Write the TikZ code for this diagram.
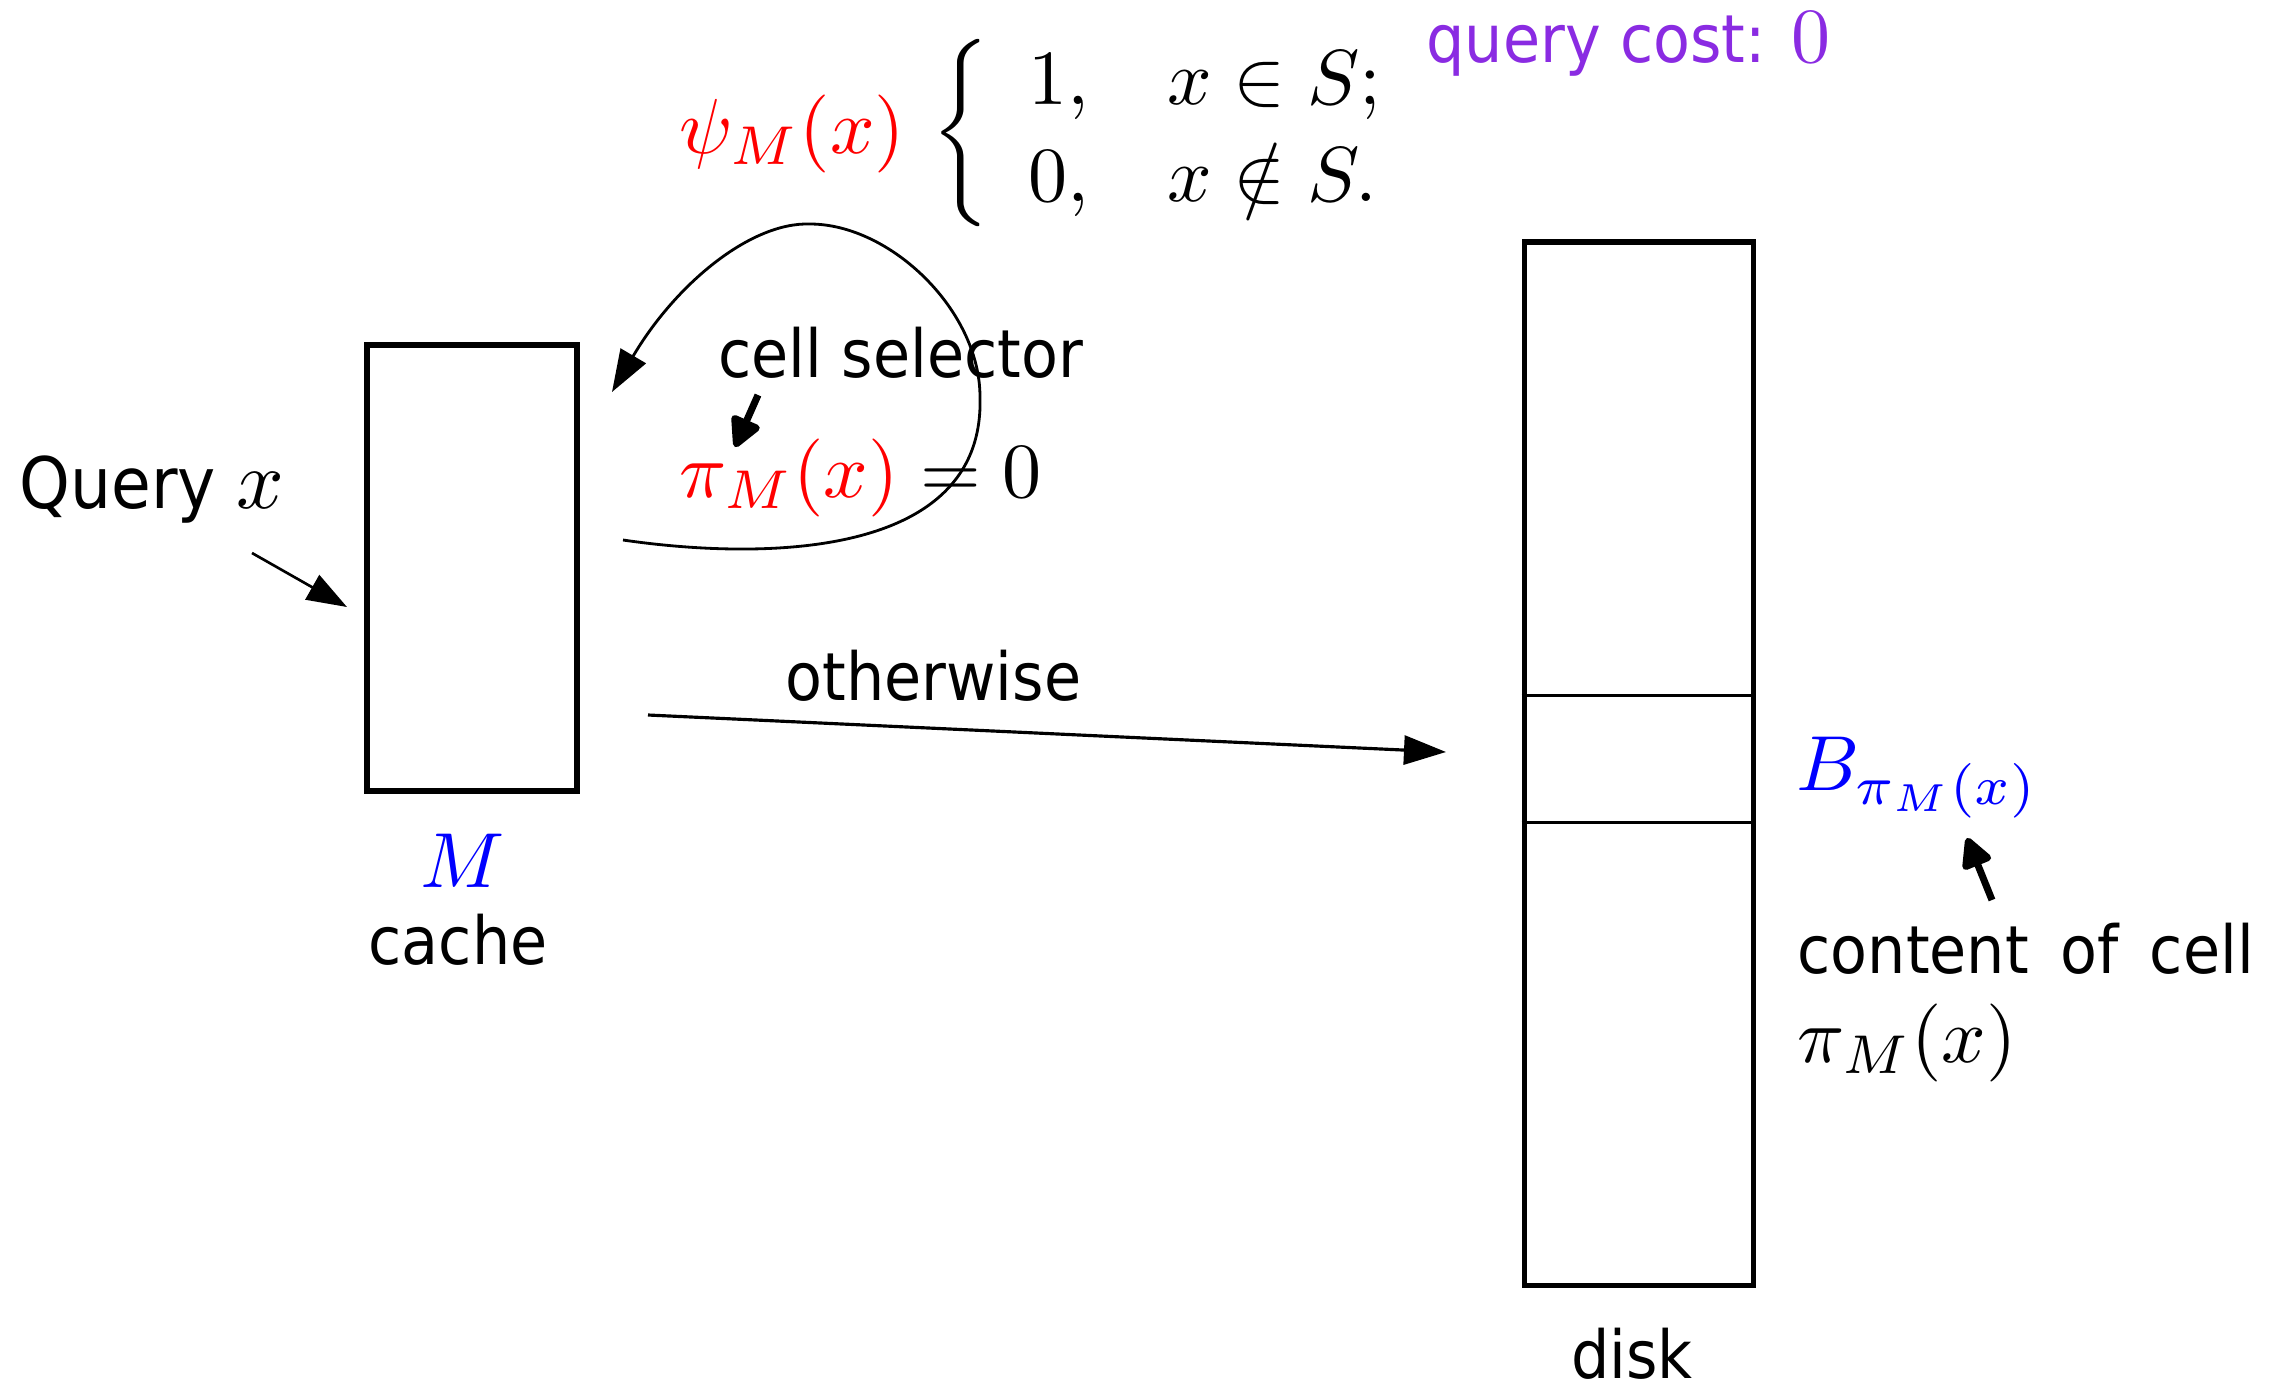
\RequirePackage{fix-cm}
\documentclass[tikz,border=0pt]{standalone}
\usepackage{amsmath}
\usepackage[no-math]{fontspec}
\setmainfont{DejaVu Sans}[Scale=0.85,FakeStretch=0.91]
\usetikzlibrary{arrows.meta}
\definecolor{costviolet}{RGB}{138,43,226}

\begin{document}
\begin{tikzpicture}[x=0.01cm,y=-0.01cm,
  txt/.style={inner sep=0pt, scale=2.22, font=\fontsize{10}{12.4}\selectfont},
  box/.style={draw, line width=1.6pt, inner sep=0pt},
  divider/.style={line width=0.85pt},
  flow/.style={line width=0.8pt, -{Triangle[length=0.42cm,width=0.29cm]}},
  pointer/.style={line width=2pt, line join=round, -{Triangle[length=0.34cm,width=0.33cm,round]}}
]
\useasboundingbox (0,0) rectangle (2272,1387);

% cache and disk
\node[box, minimum width=2.10cm, minimum height=4.46cm] (cache) at (472,568) {};
\node[box, minimum width=2.29cm, minimum height=10.43cm] (disk) at (1639,763.5) {};
\coordinate (row1) at (0,695);
\coordinate (row2) at (0,822);
\draw[divider] (disk.west |- row1) -- (disk.east |- row1);
\draw[divider] (disk.west |- row2) -- (disk.east |- row2);

% labels
\node[txt, scale=1.07, anchor=base west] (query) at (18,508) {Query $x$};
\node[txt, anchor=base, text=blue] (mlabel) at (463,887) {$M$};
\node[txt, anchor=base] (cachelabel) at (458,964) {cache};
\node[txt, anchor=base] (disklabel) at (1632,1378) {disk};
\node[txt, anchor=base west] (otw) at (784,700) {otherwise};
\node[txt, anchor=base west] (selector) at (717,377) {cell selector};
\node[txt, anchor=base west] (pieq) at (678,497) {${\color{red}\pi_M(x)} = 0$};
\node[txt, anchor=base west] (psi) at (678,153)
  {${\color{red}\psi_M(x)}\mkern3mu\left\{\begin{array}{ll} 1, & x\in S;\\ 0, & x\notin S.\end{array}\right.$};
\node[txt, anchor=base west, text=costviolet] (cost) at (1425,62) {query cost: $0$};
\node[txt, anchor=base west] (blk) at (1795,790) {\color{blue}$B_{\pi_M(x)}$};
\node[txt, anchor=base west, align=left, text width=2.054cm, font=\fontsize{10}{11.4}\selectfont] (content) at (1796,973)
  {\makebox[2.054cm][l]{content\hfill of\hfill cell}\\ $\pi_M(x)$};

% incoming query
\coordinate (qs) at (252,553);
\coordinate (qe) at (347,607);
\draw[line width=0.75pt, -{Triangle[length=0.40cm,width=0.28cm]}] (qs) -- (qe);

% loop back into the cache
\coordinate (ls) at (623,540);
\coordinate (le) at (612,392);
\draw[flow] (ls) .. controls (760,560) and (985,560) .. (980,397)
  .. controls (980,310) and (890,224) .. (810,224)
  .. controls (750,222) and (675,285) .. (le);

% otherwise: go to disk
\coordinate (os) at (648,715);
\coordinate (oe) at (1446,752);
\draw[flow, line width=0.9pt] (os) -- (oe);

% pointers
\coordinate (cs1) at (758,395);
\coordinate (cs2) at (735,447);
\draw[pointer] (cs1) -- (cs2);
\coordinate (cp1) at (1992,900);
\coordinate (cp2) at (1967,838);
\draw[pointer] (cp1) -- (cp2);
\end{tikzpicture}
\end{document}
